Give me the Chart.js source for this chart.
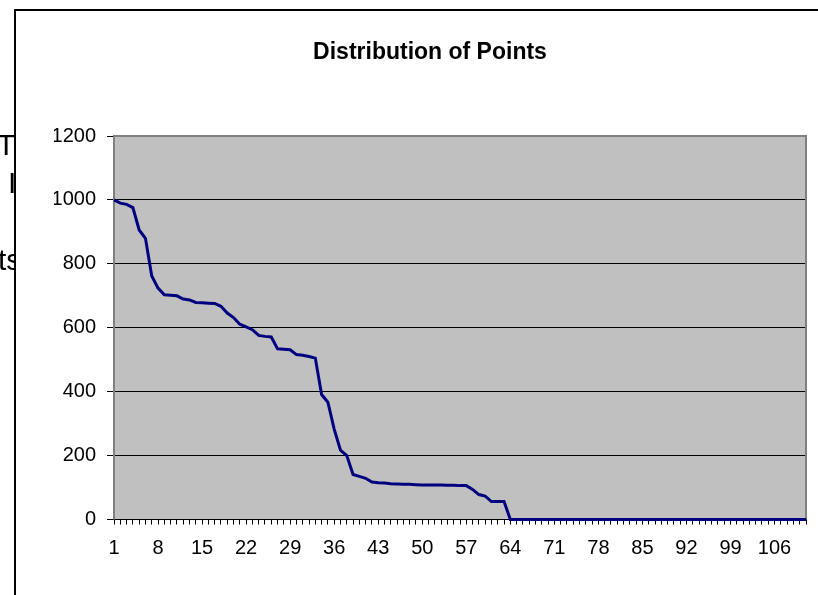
<!DOCTYPE html>
<html>
<head>
<meta charset="utf-8">
<script src="https://cdn.jsdelivr.net/npm/chart.js@4.4.1/dist/chart.umd.min.js"></script>
<style>
    html, body { margin: 0; padding: 0; background: #fff; overflow: hidden; }
    body { width: 818px; height: 595px; position: relative; font-family: "Liberation Sans", Arial, sans-serif; }
    .stray { position: absolute; font-size: 30px; line-height: 30px; color: #000; white-space: nowrap; will-change: transform; }
    #box { position: absolute; left: 14px; top: 9px; width: 900px; height: 700px; border-left: 2px solid #000; border-top: 2px solid #000; background: #fff; }
    #wrap { position: absolute; left: 0; top: 0; width: 818px; height: 595px; }
</style>
</head>
<body>
    <!-- bits of text sitting behind the chart box -->
    <div class="stray" style="right: 803px; top: 130px;">T</div>
    <div class="stray" style="right: 801.5px; top: 168px;">I</div>
    <div class="stray" style="left: -2px; top: 245px;">ts</div>
    <div id="box"></div>
    <div id="wrap"><canvas id="myChart"></canvas></div>

<script>
    // categories along the bottom
    let categories = [];
    for (let i = 1; i <= 111; i++) categories.push(String(i));

    // points
    let points = [
        1000, 990, 986, 976, 906, 880, 762, 724, 703, 702,
        700, 690, 687, 679, 678, 677, 676, 667, 646, 632,
        611, 603, 594, 576, 573, 571, 534, 533, 531, 516,
        514, 510, 505, 391, 367, 283, 217, 200, 141, 135,
        129, 117, 115, 114, 112, 111, 110, 110, 109, 108,
        108, 108, 108, 107, 107, 106, 106, 94, 78, 73,
        56, 56, 56, 0, 0, 0, 0, 0, 0, 0,
        0, 0, 0, 0, 0, 0, 0, 0, 0, 0,
        0, 0, 0, 0, 0, 0, 0, 0, 0, 0,
        0, 0, 0, 0, 0, 0, 0, 0, 0, 0,
        0, 0, 0, 0, 0, 0, 0, 0, 0, 0,
        0
    ];

    let yTicks = [0, 200, 400, 600, 800, 1000, 1200];
    let labelEvery = 7;

    const font = "'Liberation Sans', Arial, sans-serif";

    // grey plot area with a grey frame, like the old spreadsheet charts
    const plotArea = {
        id: 'plotArea',
        beforeDraw(chart) {
            const a = chart.chartArea;
            const c = chart.ctx;
            c.save();
            c.fillStyle = '#c0c0c0';
            c.fillRect(a.left, a.top, a.right - a.left, a.bottom - a.top);
            c.restore();
        },
        beforeDatasetsDraw(chart) {
            const a = chart.chartArea;
            const c = chart.ctx;
            c.save();
            c.strokeStyle = '#808080';
            c.lineWidth = 2;
            c.beginPath();
            c.moveTo(a.left, a.bottom);
            c.lineTo(a.left, a.top);
            c.lineTo(a.right, a.top);
            c.lineTo(a.right, a.bottom);
            c.stroke();
            c.restore();
        }
    };

    let myChart = document.getElementById('myChart').getContext('2d');

    let chart1 = new Chart(myChart, {
        type: 'line',
        data: {
            labels: categories,
            datasets: [{
                data: points,
                borderColor: '#000080',
                borderWidth: 3,
                pointRadius: 0,
                tension: 0,
                fill: false,
                clip: false,
            }]
        },
        options: {
            responsive: true,
            maintainAspectRatio: false,
            animation: false,
            layout: {
                padding: { left: 54, right: 12, top: 0, bottom: 0 }
            },
            plugins: {
                legend: { display: false },
                tooltip: { enabled: false },
                title: {
                    display: true,
                    text: 'Distribution of Points',
                    color: '#000',
                    font: { family: font, size: 23, weight: 'bold', lineHeight: 1.2 },
                    padding: { top: 38.7, bottom: 69.7 },
                }
            },
            scales: {
                x: {
                    offset: false,
                    grid: { drawOnChartArea: false, offset: false, color: '#000', tickLength: 5 },
                    border: { display: true, color: '#000', width: 1 },
                    ticks: {
                        autoSkip: false,
                        maxRotation: 0,
                        minRotation: 0,
                        padding: 12,
                        color: '#000',
                        font: { family: font, size: 20 },
                        callback: (v, i) => (i % labelEvery === 0 ? categories[i] : ''),
                    },
                    afterFit: (s) => { s.height = 75.5; }
                },
                y: {
                    min: yTicks[0],
                    max: yTicks[yTicks.length - 1],
                    grid: { color: '#000', lineWidth: 1, tickLength: 7 },
                    border: { display: false },
                    ticks: {
                        stepSize: 200,
                        padding: 11,
                        color: '#000',
                        font: { family: font, size: 20 },
                        callback: (v) => String(v),
                    },
                    afterFit: (s) => { s.width = 60; }
                }
            }
        },
        plugins: [plotArea]
    });
</script>
</body>
</html>
